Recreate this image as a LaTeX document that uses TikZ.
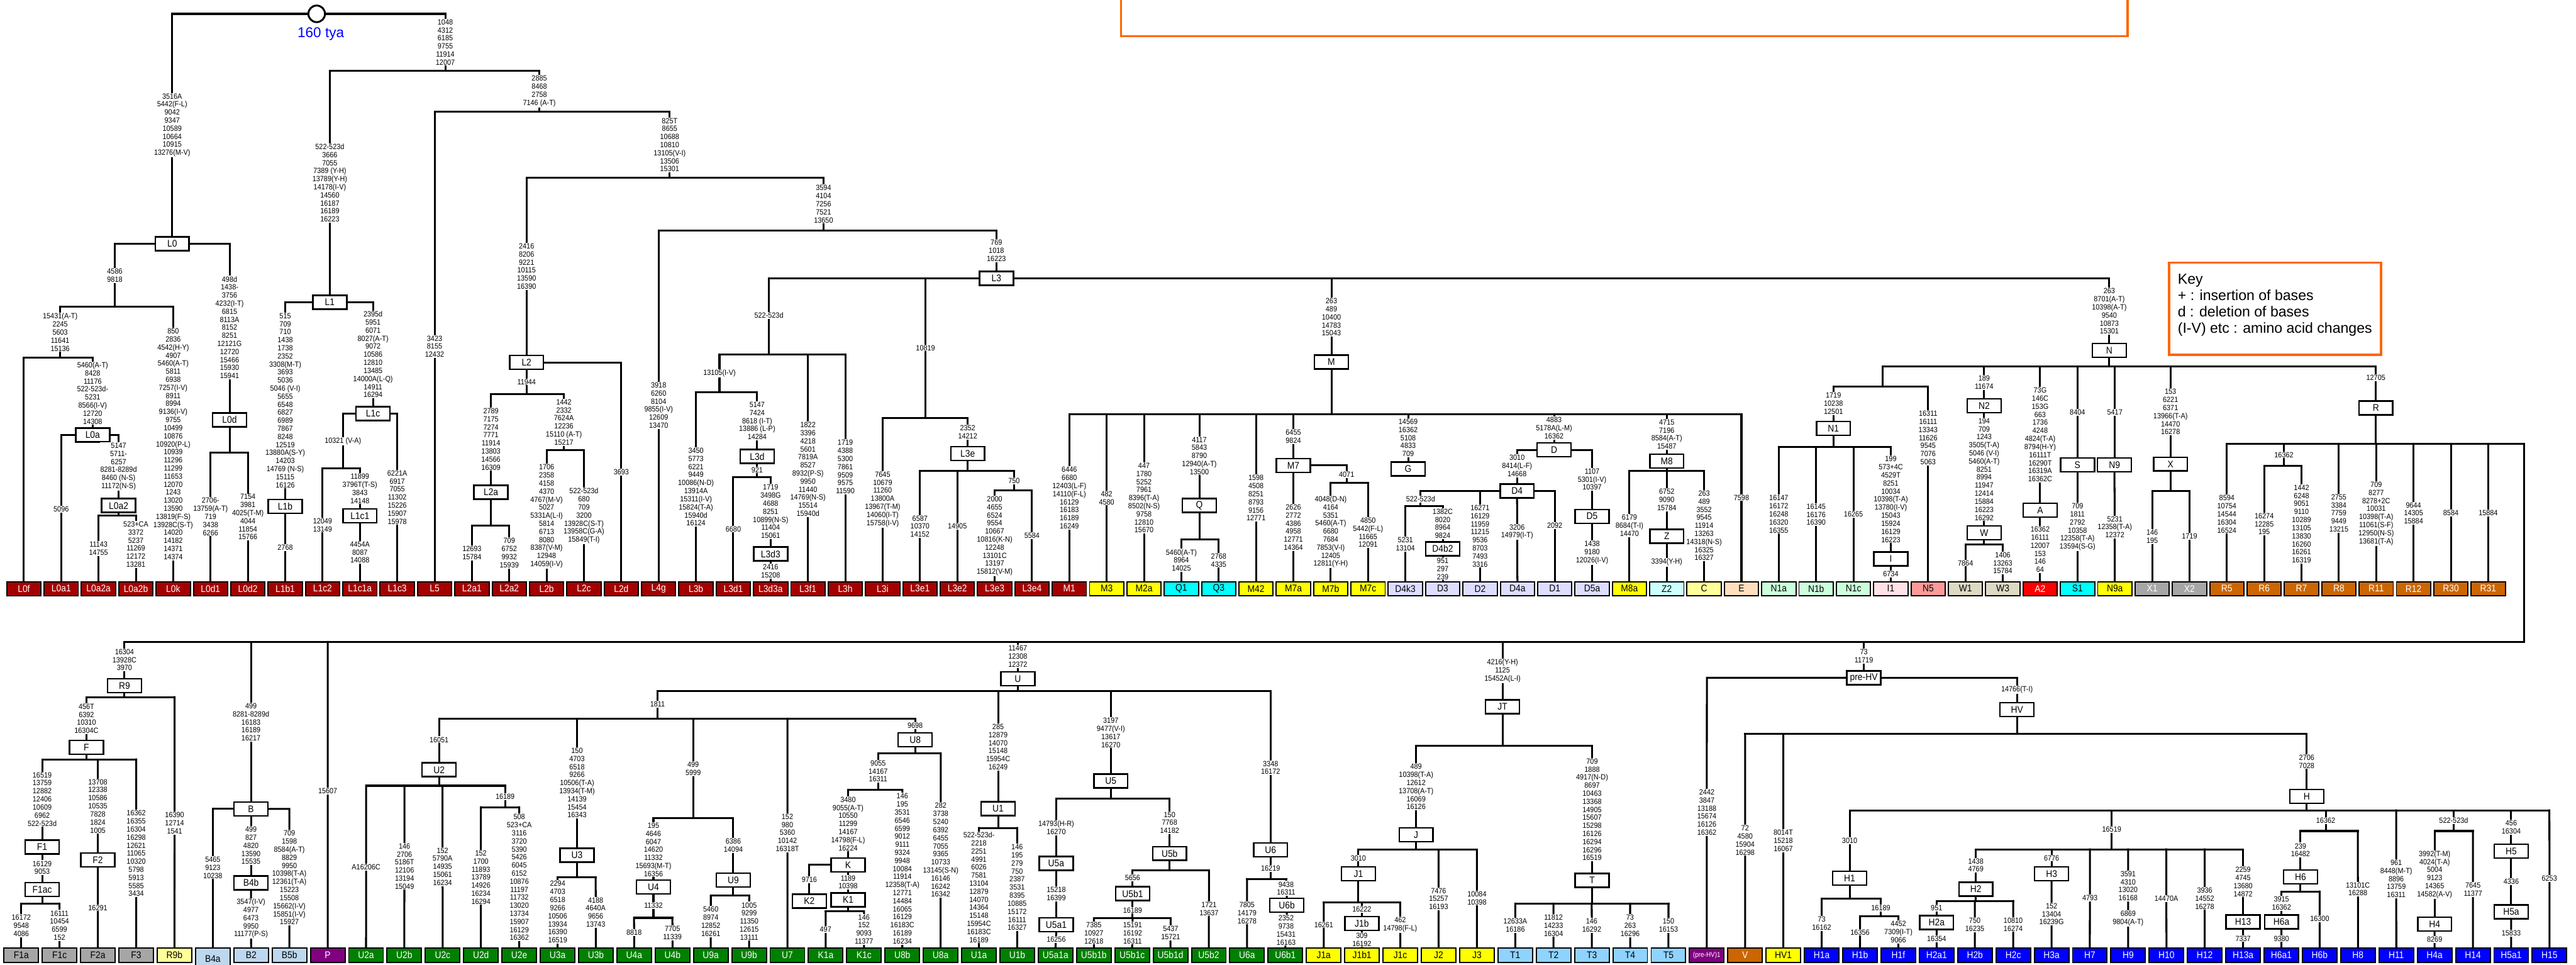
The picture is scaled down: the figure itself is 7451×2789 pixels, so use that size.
\documentclass[tikz,border=0pt]{standalone}
\usepackage{fontspec}
\setmainfont{Liberation Sans}
\newfontfamily\nrw{Liberation Sans}[FakeStretch=0.9]
\newcommand\labf{\nrw\fontsize{22}{23.3}\selectfont}
\newcommand\leaff{\nrw\fontsize{28}{30}\selectfont}
\newcommand\smleaff{\nrw\fontsize{20}{22}\selectfont}
\newcommand\boxf{\nrw\fontsize{28}{30}\selectfont}
\newcommand\keyf{\fontsize{42}{47}\selectfont}
\newcommand\tyaf{\fontsize{41}{45}\selectfont}
\pgfdeclarelayer{bg}\pgfdeclarelayer{edges}
\pgfsetlayers{bg,edges,main}
\definecolor{cDR}{RGB}{165,0,0}
\definecolor{cYel}{RGB}{255,255,0}
\definecolor{cCy}{RGB}{0,255,255}
\definecolor{cLav}{RGB}{221,221,255}
\definecolor{cLCy}{RGB}{204,255,255}
\definecolor{cLYel}{RGB}{255,255,153}
\definecolor{cPeach}{RGB}{255,222,190}
\definecolor{cLGr}{RGB}{204,255,220}
\definecolor{cPink}{RGB}{255,225,230}
\definecolor{cSal}{RGB}{255,153,153}
\definecolor{cBeige}{RGB}{221,217,195}
\definecolor{cRed}{RGB}{255,0,0}
\definecolor{cGray}{RGB}{166,166,166}
\definecolor{cBrn}{RGB}{204,102,0}
\definecolor{cLBlue}{RGB}{189,215,238}
\definecolor{cPurp}{RGB}{128,0,128}
\definecolor{cGrn}{RGB}{0,128,0}
\definecolor{cSky}{RGB}{143,211,254}
\definecolor{cBlue}{RGB}{0,0,255}
\definecolor{cOr}{RGB}{255,102,0}
\tikzset{
  ln/.style={line width=5.5pt,line cap=rect},
  box/.style={draw,line width=4.5pt,fill=white,minimum width=98pt,minimum height=40pt,inner sep=0pt,font=\boxf},
  leafT/.style={draw,line width=3.5pt,minimum width=99pt,minimum height=40pt,inner sep=0pt,font=\leaff},
  lab/.style={fill=white,inner xsep=1pt,inner ysep=2pt,align=center,font=\labf},
  keyt/.style={anchor=base west,inner sep=0pt,font=\keyf}
}
\newcounter{lbc}
\newcommand\Lb[3]{\stepcounter{lbc}\node[lab] (lb\the\value{lbc}) at (#1,#2) {#3};}
\newcommand\bx[4]{\node[box] (#1) at (#2,#3) {#4};}
\newcommand\tlf[5]{\node[leafT,fill=#3,text=#4] (#1) at ({69+108*#2},1702) {#5};}
\newcommand\blf[5]{\node[leafT,minimum width=100pt,minimum height=41pt,fill=#3,text=#4] (#1) at ({61.5+110.8*#2},2762) {#5};}
\newcommand\vn[3]{\draw[ln] (#1,#2) -- (#3.north);}
\newcommand\hb[3]{\draw[ln] (#1,#3) -- (#2,#3);}
\newcommand\vv[3]{\draw[ln] (#1,#2) -- (#1,#3);}
\newcommand\sn[2]{\draw[ln] (#1.south) -- (#2.north);}
\begin{document}
\begin{tikzpicture}[x=1pt,y=-1pt]
\useasboundingbox (0,0) rectangle (7451,2789);
\begin{pgfonlayer}{bg}
\fill[white] (0,0) rectangle (7451,2789);
\end{pgfonlayer}
% ---------- title and key ----------
\draw[cOr,line width=6pt] (3243,-30) rectangle (6154,105);
\draw[cOr,line width=6pt] (6274,759) rectangle (6887,1026);
\node[keyt] (k1) at (6299,822) {Key};
\node[keyt] (k2) at (6299,869) {+ : insertion of bases};
\node[keyt] (k3) at (6299,916) {d : deletion of bases};
\node[keyt] (k4) at (6299,963) {(I-V) etc : amino acid changes};
% ---------- root ----------
\node[circle,draw,line width=5.5pt,minimum size=48pt,fill=white,inner sep=0pt] (root) at (916,40) {};
\node[text=cBlue,font=\tyaf,inner sep=0pt] (tya) at (928,99) {160 tya};
% ---------- top boxes ----------
\bx{L0}{498}{705}{L0}
\bx{L0a}{268}{1258}{L0a}
\bx{L0a2}{343}{1462}{L0a2}
\bx{L0d}{664}{1214}{L0d}
\bx{L1}{954}{874}{L1}
\bx{L1b}{825}{1464}{L1b}
\bx{L1c}{1079}{1196}{L1c}
\bx{L1c1}{1041}{1492}{L1c1}
\bx{L2}{1523}{1048}{L2}
\bx{L2a}{1420}{1423}{L2a}
\bx{L3}{2882}{805}{L3}
\bx{L3d}{2190}{1320}{L3d}
\bx{L3d3}{2229}{1602}{L3d3}
\bx{L3e}{2799}{1312}{L3e}
\bx{Q}{3469}{1462}{Q}
\bx{M}{3851}{1047}{M}
\bx{M7}{3741}{1346}{M7}
\bx{G}{4073}{1356}{G}
\bx{D}{4495}{1301}{D}
\bx{D4}{4388}{1420}{D4}
\bx{D4b2}{4173}{1587}{D4b2}
\bx{D5}{4605}{1493}{D5}
\bx{M8}{4821}{1333}{M8}
\bx{Z}{4821}{1551}{Z}
\bx{N1}{5303}{1239}{N1}
\bx{I}{5469}{1616}{I}
\bx{N}{6101}{1013}{N}
\bx{N2}{5739}{1173}{N2}
\bx{W}{5739}{1541}{W}
\bx{A}{5901}{1475}{A}
\bx{S}{6009}{1344}{S}
\bx{N9}{6116}{1344}{N9}
\bx{X}{6278}{1342}{X}
\bx{R}{6872}{1180}{R}
% ---------- top leaves ----------
\tlf{L0f}{0}{cDR}{white}{L0f}
\tlf{L0a1}{1}{cDR}{white}{L0a1}
\tlf{L0a2a}{2}{cDR}{white}{L0a2a}
\tlf{L0a2b}{3}{cDR}{white}{L0a2b}
\tlf{L0k}{4}{cDR}{white}{L0k}
\tlf{L0d1}{5}{cDR}{white}{L0d1}
\tlf{L0d2}{6}{cDR}{white}{L0d2}
\tlf{L1b1}{7}{cDR}{white}{L1b1}
\tlf{L1c2}{8}{cDR}{white}{L1c2}
\tlf{L1c1a}{9}{cDR}{white}{L1c1a}
\tlf{L1c3}{10}{cDR}{white}{L1c3}
\tlf{L5}{11}{cDR}{white}{L5}
\tlf{L2a1}{12}{cDR}{white}{L2a1}
\tlf{L2a2}{13}{cDR}{white}{L2a2}
\tlf{L2b}{14}{cDR}{white}{L2b}
\tlf{L2c}{15}{cDR}{white}{L2c}
\tlf{L2d}{16}{cDR}{white}{L2d}
\tlf{L4g}{17}{cDR}{white}{L4g}
\tlf{L3b}{18}{cDR}{white}{L3b}
\tlf{L3d1}{19}{cDR}{white}{L3d1}
\tlf{L3d3a}{20}{cDR}{white}{L3d3a}
\tlf{L3f1}{21}{cDR}{white}{L3f1}
\tlf{L3h}{22}{cDR}{white}{L3h}
\tlf{L3i}{23}{cDR}{white}{L3i}
\tlf{L3e1}{24}{cDR}{white}{L3e1}
\tlf{L3e2}{25}{cDR}{white}{L3e2}
\tlf{L3e3}{26}{cDR}{white}{L3e3}
\tlf{L3e4}{27}{cDR}{white}{L3e4}
\tlf{M1}{28}{cDR}{white}{M1}
\tlf{M3}{29}{cYel}{black}{M3}
\tlf{M2a}{30}{cYel}{black}{M2a}
\tlf{Q1}{31}{cCy}{black}{Q1}
\tlf{Q3}{32}{cCy}{black}{Q3}
\tlf{M42}{33}{cYel}{black}{M42}
\tlf{M7a}{34}{cYel}{black}{M7a}
\tlf{M7b}{35}{cYel}{black}{M7b}
\tlf{M7c}{36}{cYel}{black}{M7c}
\tlf{D4k3}{37}{cLav}{black}{D4k3}
\tlf{D3}{38}{cLav}{black}{D3}
\tlf{D2}{39}{cLav}{black}{D2}
\tlf{D4a}{40}{cLav}{black}{D4a}
\tlf{D1}{41}{cLav}{black}{D1}
\tlf{D5a}{42}{cLav}{black}{D5a}
\tlf{M8a}{43}{cYel}{black}{M8a}
\tlf{Z2}{44}{cLCy}{black}{Z2}
\tlf{C}{45}{cLYel}{black}{C}
\tlf{E}{46}{cPeach}{black}{E}
\tlf{N1a}{47}{cLGr}{black}{N1a}
\tlf{N1b}{48}{cLGr}{black}{N1b}
\tlf{N1c}{49}{cLGr}{black}{N1c}
\tlf{I1}{50}{cPink}{black}{I1}
\tlf{N5}{51}{cSal}{black}{N5}
\tlf{W1}{52}{cBeige}{black}{W1}
\tlf{W3}{53}{cBeige}{black}{W3}
\tlf{A2}{54}{cRed}{white}{A2}
\tlf{S1}{55}{cCy}{black}{S1}
\tlf{N9a}{56}{cYel}{black}{N9a}
\tlf{X1}{57}{cGray}{white}{X1}
\tlf{X2}{58}{cGray}{white}{X2}
\tlf{R5}{59}{cBrn}{white}{R5}
\tlf{R6}{60}{cBrn}{white}{R6}
\tlf{R7}{61}{cBrn}{white}{R7}
\tlf{R8}{62}{cBrn}{white}{R8}
\tlf{R11}{63}{cBrn}{white}{R11}
\tlf{R12}{64}{cBrn}{white}{R12}
\tlf{R30}{65}{cBrn}{white}{R30}
\tlf{R31}{66}{cBrn}{white}{R31}
% ---------- bottom boxes ----------
\bx{R9}{360}{1983}{R9}
\bx{F}{250}{2161}{F}
\bx{F1}{122}{2449}{F1}
\bx{F1ac}{122}{2572}{F1ac}
\bx{F2}{283}{2487}{F2}
\bx{B}{726}{2339}{B}
\bx{B4b}{726}{2553}{B4b}
\bx{U2}{1270}{2226}{U2}
\bx{U3}{1669}{2473}{U3}
\bx{U4}{1890}{2565}{U4}
\bx{U9}{2121}{2545}{U9}
\bx{U8}{2647}{2139}{U8}
\bx{K}{2453}{2501}{K}
\bx{K2}{2341}{2606}{K2}
\bx{K1}{2453}{2602}{K1}
\bx{U}{2944}{1963}{U}
\bx{U1}{2887}{2338}{U1}
\bx{U5}{3213}{2258}{U5}
\bx{U5a}{3055}{2497}{U5a}
\bx{U5a1}{3055}{2674}{U5a1}
\bx{U5b}{3383}{2468}{U5b}
\bx{U5b1}{3276}{2584}{U5b1}
\bx{U6}{3675}{2458}{U6}
\bx{U6b}{3722}{2618}{U6b}
\bx{JT}{4346}{2044}{JT}
\bx{J}{4096}{2414}{J}
\bx{J1}{3929}{2527}{J1}
\bx{J1b}{3939}{2670}{J1b}
\bx{T}{4605}{2546}{T}
\bx{preHV}{5391}{1960}{pre-HV}
\bx{HV}{5834}{2052}{HV}
\bx{H}{6672}{2303}{H}
\bx{H1}{5350}{2539}{H1}
\bx{H2}{5715}{2571}{H2}
\bx{H2a}{5601.5}{2668}{H2a}
\bx{H3}{5934}{2527}{H3}
\bx{H13}{6488}{2666}{H13}
\bx{H6}{6654}{2536}{H6}
\bx{H6a}{6599}{2666}{H6a}
\bx{H4}{7042}{2672}{H4}
\bx{H5}{7263.5}{2461}{H5}
\bx{H5a}{7263.5}{2637}{H5a}
% ---------- bottom leaves ----------
\blf{F1a}{0}{cGray}{black}{F1a}
\blf{F1c}{1}{cGray}{black}{F1c}
\blf{F2a}{2}{cGray}{black}{F2a}
\blf{F3}{3}{cGray}{black}{F3}
\blf{R9b}{4}{cLYel}{black}{R9b}
\node[leafT,minimum width=100pt,minimum height=62pt,fill=cLBlue] (B4a) at (615.5,2772) {B4a};
\blf{B2}{6}{cLBlue}{black}{B2}
\blf{B5b}{7}{cLBlue}{black}{B5b}
\blf{P}{8}{cPurp}{white}{P}
\blf{U2a}{9}{cGrn}{white}{U2a}
\blf{U2b}{10}{cGrn}{white}{U2b}
\blf{U2c}{11}{cGrn}{white}{U2c}
\blf{U2d}{12}{cGrn}{white}{U2d}
\blf{U2e}{13}{cGrn}{white}{U2e}
\blf{U3a}{14}{cGrn}{white}{U3a}
\blf{U3b}{15}{cGrn}{white}{U3b}
\blf{U4a}{16}{cGrn}{white}{U4a}
\blf{U4b}{17}{cGrn}{white}{U4b}
\blf{U9a}{18}{cGrn}{white}{U9a}
\blf{U9b}{19}{cGrn}{white}{U9b}
\blf{U7}{20}{cGrn}{white}{U7}
\blf{K1a}{21}{cGrn}{white}{K1a}
\blf{K1c}{22}{cGrn}{white}{K1c}
\blf{U8b}{23}{cGrn}{white}{U8b}
\blf{U8a}{24}{cGrn}{white}{U8a}
\blf{U1a}{25}{cGrn}{white}{U1a}
\blf{U1b}{26}{cGrn}{white}{U1b}
\blf{U5a1a}{27}{cGrn}{white}{U5a1a}
\blf{U5b1b}{28}{cGrn}{white}{U5b1b}
\blf{U5b1c}{29}{cGrn}{white}{U5b1c}
\blf{U5b1d}{30}{cGrn}{white}{U5b1d}
\blf{U5b2}{31}{cGrn}{white}{U5b2}
\blf{U6a}{32}{cGrn}{white}{U6a}
\blf{U6b1}{33}{cGrn}{white}{U6b1}
\blf{J1a}{34}{cYel}{black}{J1a}
\blf{J1b1}{35}{cYel}{black}{J1b1}
\blf{J1c}{36}{cYel}{black}{J1c}
\blf{J2}{37}{cYel}{black}{J2}
\blf{J3}{38}{cYel}{black}{J3}
\blf{T1}{39}{cSky}{black}{T1}
\blf{T2}{40}{cSky}{black}{T2}
\blf{T3}{41}{cSky}{black}{T3}
\blf{T4}{42}{cSky}{black}{T4}
\blf{T5}{43}{cSky}{black}{T5}
\blf{preHVa}{44}{cPurp}{white}{\smleaff(pre-HV)1}
\blf{V}{45}{cBrn}{white}{V}
\blf{HV1}{46}{cYel}{black}{HV1}
\blf{H1a}{47}{cBlue}{white}{H1a}
\blf{H1b}{48}{cBlue}{white}{H1b}
\blf{H1f}{49}{cBlue}{white}{H1f}
\blf{H2a1}{50}{cBlue}{white}{H2a1}
\blf{H2b}{51}{cBlue}{white}{H2b}
\blf{H2c}{52}{cBlue}{white}{H2c}
\blf{H3a}{53}{cBlue}{white}{H3a}
\blf{H7}{54}{cBlue}{white}{H7}
\blf{H9}{55}{cBlue}{white}{H9}
\blf{H10}{56}{cBlue}{white}{H10}
\blf{H12}{57}{cBlue}{white}{H12}
\blf{H13a}{58}{cBlue}{white}{H13a}
\blf{H6a1}{59}{cBlue}{white}{H6a1}
\blf{H6b}{60}{cBlue}{white}{H6b}
\blf{H8}{61}{cBlue}{white}{H8}
\blf{H11}{62}{cBlue}{white}{H11}
\blf{H4a}{63}{cBlue}{white}{H4a}
\blf{H14}{64}{cBlue}{white}{H14}
\blf{H5a1}{65}{cBlue}{white}{H5a1}
\blf{H15}{66}{cBlue}{white}{H15}
% ---------- top labels ----------
\Lb{1288}{122}{1048\\4312\\6185\\9755\\11914\\12007}
\Lb{498}{362}{3516A\\5442(F-L)\\9042\\9347\\10589\\10664\\10915\\13276(M-V)}
\Lb{954}{529}{522-523d\\3666\\7055\\7389 (Y-H)\\13789(Y-H)\\14178(I-V)\\14560\\16187\\16189\\16223}
\Lb{1560}{264}{2885\\8468\\2758\\7146 (A-T)}
\Lb{1937}{419}{825T\\8655\\10688\\10810\\13105(V-I)\\13506\\15301}
\Lb{1523}{770}{2416\\8206\\9221\\10115\\13590\\16390}
\Lb{2382}{590}{3594\\4104\\7256\\7521\\13650}
\Lb{2882}{725}{769\\1018\\16223}
\Lb{1257}{1002}{3423\\8155\\12432}
\Lb{1905}{1172}{3918\\6260\\8104\\9855(I-V)\\12609\\13470}
\Lb{332}{797}{4586\\9818}
\Lb{664}{947}{498d\\1438-\\3756\\4232(I-T)\\6815\\8113A\\8152\\8251\\12121G\\12720\\15466\\15930\\15941}
\Lb{174}{961}{15431(A-T)\\2245\\5603\\11641\\15136}
\Lb{268}{1137}{5460(A-T)\\8428\\11176\\522-523d-\\5231\\8566(I-V)\\12720\\14308}
\Lb{177}{1472}{5096}
\Lb{343}{1349}{5147\\5711-\\6257\\8281-8289d\\8460 (N-S)\\11172(N-S)}
\Lb{285}{1586}{11143\\14755}
\Lb{393}{1574}{523+CA\\3372\\5237\\11269\\12172\\13281}
\Lb{501}{1284}{850\\2836\\4542(H-Y)\\4907\\5460(A-T)\\5811\\6938\\7257(I-V)\\8911\\8994\\9136(I-V)\\9755\\10499\\10876\\10920(P-L)\\10939\\11296\\11299\\11653\\12070\\1243\\13020\\13590\\13819(F-S)\\13928C(S-T)\\14020\\14182\\14371\\14374}
\Lb{609}{1494}{2706-\\13759(A-T)\\719\\3438\\6266}
\Lb{717}{1495}{7154\\3981\\4025(T-M)\\4044\\11854\\15766}
\Lb{825}{1158}{515\\709\\710\\1438\\1738\\2352\\3308(M-T)\\3693\\5036\\5046 (V-I)\\5655\\6548\\6827\\6989\\7867\\8248\\12519\\13880A(S-Y)\\14203\\14769 (N-S)\\15115\\16126}
\Lb{825}{1583}{2768}
\Lb{1079}{1025}{2395d\\5951\\6071\\8027(A-T)\\9072\\10586\\12810\\13485\\14000A(L-Q)\\14911\\16294}
\Lb{992}{1276}{10321 (V-A)}
\Lb{933}{1518}{12049\\13149}
\Lb{1041}{1413}{11899\\3796T(T-S)\\3843\\14148}
\Lb{1041}{1597}{4454A\\8087\\14088}
\Lb{1149}{1438}{6221A\\6917\\7055\\11302\\15226\\15907\\15978}
\Lb{1797}{1365}{3693}
\Lb{1523}{1104}{11944}
\Lb{1420}{1270}{2789\\7175\\7274\\7771\\11914\\13803\\14566\\16309}
\Lb{1365}{1599}{12693\\15784}
\Lb{1473}{1599}{709\\6752\\9932\\15939}
\Lb{1631}{1221}{1442\\2332\\7624A\\12236\\15110 (A-T)\\15217}
\Lb{1581}{1493}{1706\\2358\\4158\\4370\\4767(M-V)\\5027\\5331A(L-I)\\5814\\6713\\8080\\8387(V-M)\\12948\\14059(I-V)}
\Lb{1689}{1492}{522-523d\\680\\709\\3200\\13928C(S-T)\\13958C(G-A)\\15849(T-I)}
\Lb{2224}{912}{522-523d}
\Lb{2081}{1080}{13105(I-V)}
\Lb{2013}{1408}{3450\\5773\\6221\\9449\\10086(N-D)\\13914A\\15311(I-V)\\15824(T-A)\\15940d\\16124}
\Lb{2190}{1217}{5147\\7424\\8618 (I-T)\\13886 (L-P)\\14284}
\Lb{2190}{1359}{921}
\Lb{2121}{1530}{6680}
\Lb{2229}{1479}{1719\\3498G\\4688\\8251\\10899(N-S)\\11404\\15061}
\Lb{2229}{1652}{2416\\15208}
\Lb{2337}{1357}{1822\\3396\\4218\\5601\\7819A\\8527\\8932(P-S)\\9950\\11440\\14769(N-S)\\15514\\15940d}
\Lb{2445}{1350}{1719\\4388\\5300\\7861\\9509\\9575\\11590}
\Lb{2677}{1006}{10819}
\Lb{2553}{1444}{7645\\10679\\11260\\13800A\\13967(T-M)\\14060(I-T)\\15758(I-V)}
\Lb{2799}{1250}{2352\\14212}
\Lb{2661}{1522}{6587\\10370\\14152}
\Lb{2769}{1522}{14905}
\Lb{2933}{1391}{750}
\Lb{2877}{1550}{2000\\4655\\6524\\9554\\10667\\10816(K-N)\\12248\\13101C\\13197\\15812(V-M)}
\Lb{2985}{1549}{5584}
\Lb{3093}{1440}{6446\\6680\\12403(L-F)\\14110(F-L)\\16129\\16183\\16189\\16249}
\Lb{3201}{1440}{482\\4580}
\Lb{3309}{1440}{447\\1780\\5252\\7961\\8396(T-A)\\8502(N-S)\\9758\\12810\\15670}
\Lb{3469}{1318}{4117\\5843\\8790\\12940(A-T)\\13500}
\Lb{3417}{1620}{5460(A-T)\\8964\\14025}
\Lb{3525}{1620}{2768\\4335}
\Lb{3633}{1440}{1598\\4508\\8251\\8793\\9156\\12771}
\Lb{3851}{917}{263\\489\\10400\\14783\\15043}
\Lb{3741}{1262}{6455\\9824}
\Lb{3741}{1525}{2626\\2772\\4386\\4958\\12771\\14364}
\Lb{3895}{1372}{4071}
\Lb{3849}{1538}{4048(D-N)\\4164\\5351\\5460(A-T)\\6680\\7684\\7853(V-I)\\12405\\12811(Y-H)}
\Lb{3957}{1540}{4850\\5442(F-L)\\11665\\12091}
\Lb{4073}{1266}{14569\\16362\\5108\\4833\\709}
\Lb{4495}{1238}{4883\\5178A(L-M)\\16362}
\Lb{4388}{1347}{3010\\8414(L-F)\\14668}
\Lb{4605}{1386}{1107\\5301(I-V)\\10397}
\Lb{4605}{1598}{1438\\9180\\12026(I-V)}
\Lb{4109}{1443}{522-523d}
\Lb{4065}{1573}{5231\\13104}
\Lb{4173}{1514}{1382C\\8020\\8964\\9824}
\Lb{4173}{1645}{951\\297\\239}
\Lb{4281}{1550}{16271\\16129\\11959\\11215\\9536\\8703\\7493\\3316}
\Lb{4388}{1538}{3206\\14979(I-T)}
\Lb{4497}{1520}{2092}
\Lb{4821}{1256}{4715\\7196\\8584(A-T)\\15487}
\Lb{4713}{1520}{6179\\8684(T-I)\\14470}
\Lb{4821}{1445}{6752\\9090\\15784}
\Lb{4821}{1626}{3394(Y-H)}
\Lb{4929}{1520}{263\\489\\3552\\9545\\11914\\13263\\14318(N-S)\\16325\\16327}
\Lb{5037}{1439}{7598}
\Lb{5303}{1167}{1719\\10238\\12501}
\Lb{5145}{1487}{16147\\16172\\16248\\16320\\16355}
\Lb{5253}{1488}{16145\\16176\\16390}
\Lb{5361}{1487}{16265}
\Lb{5469}{1444}{199\\573+4C\\4529T\\8251\\10034\\10398(T-A)\\13780(I-V)\\15043\\15924\\16129\\16223}
\Lb{5469}{1660}{6734}
\Lb{5577}{1266}{16311\\16111\\13343\\11626\\9545\\7076\\5063}
\Lb{6101}{900}{263\\8701(A-T)\\10398(A-T)\\9540\\10873\\15301}
\Lb{5739}{1106}{189\\11674}
\Lb{5739}{1357}{194\\709\\1243\\3505(T-A)\\5046 (V-I)\\5460(A-T)\\8251\\8994\\11947\\12414\\15884\\16223\\16292}
\Lb{5685}{1628}{7864}
\Lb{5793}{1628}{1406\\13263\\15784}
\Lb{5901}{1257}{73G\\146C\\153G\\663\\1736\\4248\\4824(T-A)\\8794(H-Y)\\16111T\\16290T\\16319A\\16362C}
\Lb{5901}{1589}{16362\\16111\\12007\\153\\146\\64}
\Lb{6009}{1192}{8404}
\Lb{6009}{1524}{709\\1811\\2792\\10358\\12358(T-A)\\13594(S-G)}
\Lb{6117}{1192}{5417}
\Lb{6117}{1524}{5231\\12358(T-A)\\12372}
\Lb{6278}{1191}{153\\6221\\6371\\13966(T-A)\\14470\\16278}
\Lb{6225}{1552}{146\\195}
\Lb{6333}{1551}{1719}
\Lb{6872}{1092}{12705}
\Lb{6441}{1487}{8594\\10754\\14544\\16304\\16524}
\Lb{6606}{1315}{16362}
\Lb{6549}{1515}{16274\\12285\\195}
\Lb{6657}{1515}{1442\\6248\\9051\\9110\\10289\\13105\\13830\\16260\\16261\\16319}
\Lb{6765}{1484}{2755\\3384\\7759\\9449\\13215}
\Lb{6873}{1485}{709\\8277\\8278+2C\\10031\\10398(T-A)\\11061(S-F)\\12950(N-S)\\13681(T-A)}
\Lb{6981}{1484}{9644\\14305\\15884}
\Lb{7089}{1484}{8584}
\Lb{7197}{1484}{15884}
% ---------- bottom labels ----------
\Lb{360}{1908}{16304\\13928C\\3970}
\Lb{250}{2078}{456T\\6392\\10310\\16304C}
\Lb{122}{2311}{16519\\13759\\12882\\12406\\10609\\6962\\522-523d}
\Lb{122}{2509}{16129\\9053}
\Lb{61.5}{2677}{16172\\9548\\4086}
\Lb{172}{2676}{16111\\10454\\6599\\152}
\Lb{283}{2331}{13708\\12338\\10586\\10535\\7828\\1824\\1005}
\Lb{283}{2625}{16291}
\Lb{394}{2468}{16362\\16355\\16304\\16298\\12621\\11065\\10320\\5798\\5913\\5585\\3434}
\Lb{505}{2380}{16390\\12714\\1541}
\Lb{726}{2088}{499\\8281-8289d\\16183\\16189\\16217}
\Lb{615.5}{2509}{5465\\9123\\10238}
\Lb{837}{2538}{709\\1598\\8584(A-T)\\8829\\9950\\10398(T-A)\\12361(T-A)\\15223\\15508\\15662(I-V)\\15851(I-V)\\15927}
\Lb{726}{2445}{499\\827\\4820\\13590\\15535}
\Lb{726}{2656}{3547(I-V)\\4977\\6473\\9950\\11177(P-S)}
\Lb{948}{2287}{15607}
\Lb{2944}{1898}{11467\\12308\\12372}
\Lb{1902}{2037}{1811}
\Lb{1270}{2139}{16051}
\Lb{1059}{2507}{A16206C}
\Lb{1170}{2505}{146\\2706\\5186T\\12106\\13194\\15049}
\Lb{1280}{2506}{152\\5790A\\14935\\15061\\16234}
\Lb{1461}{2304}{16189}
\Lb{1391}{2537}{152\\1700\\11893\\13789\\14926\\16234\\16294}
\Lb{1502}{2537}{508\\523+CA\\3116\\3720\\5390\\5426\\6045\\6152\\10876\\11197\\11732\\13020\\13734\\15907\\16129\\16362}
\Lb{1669}{2264}{150\\4703\\6518\\9266\\10506(T-A)\\13934(T-M)\\14139\\15454\\16343}
\Lb{1613}{2637}{2294\\4703\\6518\\9266\\10506\\13934\\16390\\16519}
\Lb{1723}{2638}{4188\\4640A\\9656\\13743}
\Lb{2005}{2223}{499\\5999}
\Lb{1890}{2457}{195\\4646\\6047\\14620\\11332\\15693(M-T)\\16356}
\Lb{1890}{2619}{11332}
\Lb{1834}{2697}{8818}
\Lb{1945}{2698}{7705\\11339}
\Lb{2121}{2445}{6386\\14094}
\Lb{2056}{2665}{5460\\8974\\12852\\16261}
\Lb{2167}{2664}{1005\\9299\\11350\\12615\\13111}
\Lb{2277.5}{2408}{152\\980\\5360\\10142\\16318T}
\Lb{2647}{2098}{9698}
\Lb{2540}{2230}{9055\\14167\\16311}
\Lb{2453}{2382}{3480\\9055(A-T)\\10550\\11299\\14167\\14798(F-L)\\16224}
\Lb{2341}{2544}{9716}
\Lb{2453}{2551}{1189\\10398}
\Lb{2388}{2688}{497}
\Lb{2499}{2687}{146\\152\\9093\\11377}
\Lb{2610}{2512}{146\\195\\3531\\6546\\6599\\9012\\9111\\9324\\9948\\10084\\11914\\12358(T-A)\\12771\\14484\\16065\\16129\\16183C\\16189\\16234}
\Lb{2721}{2458}{282\\3738\\5240\\6392\\6455\\7055\\9365\\10733\\13145(S-N)\\16146\\16242\\16342}
\Lb{2887}{2160}{285\\12879\\14070\\15148\\15954C\\16249}
\Lb{2831.5}{2566}{522-523d-\\2218\\2251\\4991\\6026\\7581\\13104\\12879\\14070\\14364\\15148\\15954C\\16183C\\16189}
\Lb{2942}{2566}{146\\195\\279\\750\\2387\\3531\\8395\\10885\\15172\\16111\\16327}
\Lb{3213}{2119}{3197\\9477(V-I)\\13617\\16270}
\Lb{3055}{2394}{14793(H-R)\\16270}
\Lb{3055}{2585}{15218\\16399}
\Lb{3055}{2717}{16256}
\Lb{3383}{2379}{150\\7768\\14182}
\Lb{3276}{2539}{5656}
\Lb{3276}{2632}{16189}
\Lb{3164}{2698}{7385\\10927\\12618}
\Lb{3276}{2698}{15191\\16192\\16311}
\Lb{3386}{2698}{5437\\15721}
\Lb{3497}{2628}{1721\\13637}
\Lb{3675}{2220}{3348\\16172}
\Lb{3675}{2511}{16219}
\Lb{3607}{2640}{7805\\14179\\16278}
\Lb{3720}{2569}{9438\\16311}
\Lb{3720}{2690}{2352\\9738\\15431\\16163}
\Lb{4346}{1940}{4216(Y-H)\\1125\\15452A(L-I)}
\Lb{4096}{2275}{489\\10398(T-A)\\12612\\13708(A-T)\\16069\\16126}
\Lb{3929}{2481}{3010}
\Lb{3829}{2674}{16261}
\Lb{3939}{2630}{16222}
\Lb{3939}{2717}{309\\16192}
\Lb{4050}{2674}{462\\14798(F-L)}
\Lb{4161}{2599}{7476\\15257\\16193}
\Lb{4272}{2597}{10084\\10398}
\Lb{4605}{2341}{709\\1888\\4917(N-D)\\8697\\10463\\13368\\14905\\15607\\15298\\16126\\16294\\16296\\16519}
\Lb{4383}{2676}{12633A\\16186}
\Lb{4493.5}{2676}{11812\\14233\\16304}
\Lb{4604}{2676}{146\\16292}
\Lb{4715}{2677}{73\\263\\16296}
\Lb{4826}{2676}{150\\16153}
\Lb{5391}{1897}{73\\11719}
\Lb{4937}{2349}{2442\\3847\\13188\\15674\\16126\\16362}
\Lb{5834}{1995}{14766(T-I)}
\Lb{5047.5}{2430}{72\\4580\\15904\\16298}
\Lb{5158}{2431}{8014T\\15218\\16067}
\Lb{6672}{2202}{2706\\7028}
\Lb{5350}{2431}{3010}
\Lb{5269}{2670}{73\\16162}
\Lb{5440}{2626}{16189}
\Lb{5380}{2696}{16356}
\Lb{5491}{2695}{4452\\7309(I-T)\\9066}
\Lb{6108}{2399}{16519}
\Lb{5715}{2502}{1438\\4769}
\Lb{5601.5}{2626}{951}
\Lb{5601.5}{2715}{16354}
\Lb{5712}{2674}{750\\16235}
\Lb{5823}{2673}{10810\\16274}
\Lb{5934}{2481}{6776}
\Lb{5934}{2643}{152\\13404\\16239G}
\Lb{6045}{2597}{4793}
\Lb{6155.5}{2562}{3591\\4310\\13020\\16168}
\Lb{6155.5}{2656}{6869\\9804(A-T)}
\Lb{6266}{2599}{14470A}
\Lb{6377}{2598}{3936\\14552\\16278}
\Lb{6488}{2550}{2259\\4745\\13680\\14872}
\Lb{6488}{2714}{7337}
\Lb{6727}{2373}{16362}
\Lb{6654}{2458}{239\\16482}
\Lb{6599}{2612}{3915\\16362}
\Lb{6599}{2714}{9380}
\Lb{6709.5}{2657}{16300}
\Lb{6820}{2571}{13101C\\16288}
\Lb{6931}{2541}{961\\8448(M-T)\\8896\\13759\\16311}
\Lb{7097}{2373}{522-523d}
\Lb{7042}{2529}{3992(T-M)\\4024(T-A)\\5004\\9123\\14365\\14582(A-V)}
\Lb{7042}{2717}{8269}
\Lb{7153}{2572}{7645\\11377}
\Lb{7263.5}{2392}{456\\16304}
\Lb{7263.5}{2549}{4336}
\Lb{7263.5}{2698}{15833}
\Lb{7374}{2540}{6253}
% ---------- connectors ----------
\begin{pgfonlayer}{edges}
\hb{498}{1288}{40}
\vn{498}{40}{L0}
\vv{1288}{40}{204}
\hb{954}{1560}{204}
\vn{954}{204}{L1}
\vv{1560}{204}{323}
\hb{1257}{1937}{323}
\vn{1257}{323}{L5}
\vv{1937}{323}{514}
\hb{1523}{2382}{514}
\vn{1523}{514}{L2}
\vv{2382}{514}{666}
\hb{1905}{2882}{666}
\vn{1905}{666}{L4g}
\vn{2882}{666}{L3}
\hb{2224}{6101}{805}
\draw[ln] (L0.west) -- (332,705) -- (332,887);
\hb{174}{501}{887}
\vv{174}{887}{1034}
\hb{69}{268}{1034}
\vn{69}{1034}{L0f}
\vn{268}{1034}{L0a}
\draw[ln] (L0a.west) -- (177,1258) -- (L0a1.north);
\draw[ln] (L0a.east) -- (343,1258) -- (L0a2.north);
\draw[ln] (L0a2.south) -- (343,1491);
\hb{285}{393}{1491}
\vn{285}{1491}{L0a2a}
\vn{393}{1491}{L0a2b}
\vn{501}{887}{L0k}
\draw[ln] (L0.east) -- (664,705) -- (L0d.north);
\draw[ln] (L0d.south) -- (664,1309);
\hb{609}{717}{1309}
\vn{609}{1309}{L0d1}
\vn{717}{1309}{L0d2}
\draw[ln] (L1.west) -- (825,874) -- (L1b.north);
\sn{L1b}{L1b1}
\draw[ln] (L1.east) -- (1079,874) -- (L1c.north);
\draw[ln] (L1c.west) -- (992,1196) -- (992,1354);
\hb{933}{1041}{1354}
\vn{933}{1354}{L1c2}
\vn{1041}{1354}{L1c1}
\sn{L1c1}{L1c1a}
\draw[ln] (L1c.east) -- (1149,1196) -- (L1c3.north);
\draw[ln] (L2.east) -- (1797,1048) -- (L2d.north);
\draw[ln] (L2.south) -- (1523,1140);
\hb{1420}{1631}{1140}
\vn{1420}{1140}{L2a}
\draw[ln] (L2a.south) -- (1420,1519);
\hb{1365}{1473}{1519}
\vn{1365}{1519}{L2a1}
\vn{1473}{1519}{L2a2}
\vv{1631}{1140}{1302}
\hb{1581}{1689}{1302}
\vn{1581}{1302}{L2b}
\vn{1689}{1302}{L2c}
\vv{2224}{805}{1025}
\hb{2081}{2445}{1025}
\vv{2081}{1025}{1135}
\hb{2013}{2190}{1135}
\vn{2013}{1135}{L3b}
\vn{2190}{1135}{L3d}
\draw[ln] (L3d.south) -- (2190,1379);
\hb{2121}{2229}{1379}
\vn{2121}{1379}{L3d1}
\vn{2229}{1379}{L3d3}
\sn{L3d3}{L3d3a}
\vn{2337}{1025}{L3f1}
\vn{2445}{1025}{L3h}
\vv{2677}{805}{1208}
\hb{2553}{2799}{1208}
\vn{2553}{1208}{L3i}
\vn{2799}{1208}{L3e}
\draw[ln] (L3e.south) -- (2799,1362);
\hb{2661}{2933}{1362}
\vn{2661}{1362}{L3e1}
\vn{2769}{1362}{L3e2}
\vv{2933}{1362}{1418}
\hb{2877}{2985}{1418}
\vn{2877}{1418}{L3e3}
\vn{2985}{1418}{L3e4}
\vn{3851}{805}{M}
\draw[ln] (M.south) -- (3851,1197);
\hb{3093}{5037}{1197}
\vn{3093}{1197}{M1}
\vn{3201}{1197}{M3}
\vn{3309}{1197}{M2a}
\vn{3469}{1197}{Q}
\draw[ln] (Q.south) -- (3469,1559);
\hb{3417}{3525}{1559}
\vn{3417}{1559}{Q1}
\vn{3525}{1559}{Q3}
\vn{3633}{1197}{M42}
\vn{3741}{1197}{M7}
\sn{M7}{M7a}
\draw[ln] (M7.east) -- (3895,1346) -- (3895,1397);
\hb{3849}{3957}{1397}
\vn{3849}{1397}{M7b}
\vn{3957}{1397}{M7c}
\vn{4073}{1197}{G}
\vn{4495}{1197}{D}
\draw[ln] (D.west) -- (4388,1301) -- (D4.north);
\draw[ln] (D.east) -- (4605,1301) -- (D5.north);
\sn{D5}{D5a}
\hb{4109}{4497}{1420}
\vv{4109}{1420}{1463}
\hb{4065}{4173}{1463}
\vn{4065}{1463}{D4k3}
\vn{4173}{1463}{D4b2}
\sn{D4b2}{D3}
\vn{4281}{1420}{D2}
\sn{D4}{D4a}
\vn{4497}{1420}{D1}
\vn{4821}{1197}{M8}
\draw[ln] (M8.south) -- (4821,1361);
\hb{4713}{4929}{1361}
\vn{4713}{1361}{M8a}
\vn{4821}{1361}{Z}
\sn{Z}{Z2}
\vn{4929}{1361}{C}
\vn{5037}{1197}{E}
\vn{6101}{805}{N}
\draw[ln] (N.south) -- (6101,1060);
\hb{5446}{6872}{1060}
\vv{5446}{1060}{1118}
\hb{5303}{5577}{1118}
\vn{5303}{1118}{N1}
\draw[ln] (N1.south) -- (5303,1293);
\hb{5145}{5469}{1293}
\vn{5145}{1293}{N1a}
\vn{5253}{1293}{N1b}
\vn{5361}{1293}{N1c}
\vn{5469}{1293}{I}
\sn{I}{I1}
\vn{5577}{1118}{N5}
\vn{5739}{1060}{N2}
\sn{N2}{W}
\draw[ln] (W.south) -- (5739,1574);
\hb{5685}{5793}{1574}
\vn{5685}{1574}{W1}
\vn{5793}{1574}{W3}
\vn{5901}{1060}{A}
\sn{A}{A2}
\vn{6009}{1060}{S}
\sn{S}{S1}
\vn{6116}{1060}{N9}
\sn{N9}{N9a}
\vn{6278}{1060}{X}
\draw[ln] (X.south) -- (6278,1420);
\hb{6225}{6333}{1420}
\vn{6225}{1420}{X1}
\vn{6333}{1420}{X2}
\vn{6872}{1060}{R}
\draw[ln] (R.south) -- (6872,1284);
\hb{6441}{7301}{1284}
\vn{6441}{1284}{R5}
\vv{6606}{1284}{1347}
\hb{6549}{6657}{1347}
\vn{6549}{1347}{R6}
\vn{6657}{1347}{R7}
\vn{6765}{1284}{R8}
\vn{6873}{1284}{R11}
\vn{6981}{1284}{R12}
\vn{7089}{1284}{R30}
\vn{7197}{1284}{R31}
\vv{7301}{1284}{1856}
% bottom
\hb{360}{7301}{1856}
\vn{360}{1856}{R9}
\draw[ln] (R9.south) -- (360,2016);
\hb{250}{505}{2016}
\vn{250}{2016}{F}
\draw[ln] (F.south) -- (250,2196);
\hb{122}{394}{2196}
\vn{122}{2196}{F1}
\sn{F1}{F1ac}
\draw[ln] (F1ac.south) -- (122,2613);
\hb{61.5}{172}{2613}
\vn{61.5}{2613}{F1a}
\vn{172}{2613}{F1c}
\vn{283}{2196}{F2}
\sn{F2}{F2a}
\vn{394}{2196}{F3}
\vn{505}{2016}{R9b}
\vn{726}{1856}{B}
\draw[ln] (B.west) -- (615.5,2339) -- (B4a.north);
\draw[ln] (B.east) -- (837,2339) -- (B5b.north);
\sn{B}{B4b}
\sn{B4b}{B2}
\vn{948}{1856}{P}
\vn{2944}{1856}{U}
\draw[ln] (U.south) -- (2944,1999);
\hb{1902}{3675}{1999}
\vv{1902}{1999}{2078}
\hb{1270}{2647}{2078}
\vn{1270}{2078}{U2}
\draw[ln] (U2.south) -- (1270,2272);
\hb{1059}{1461}{2272}
\vn{1059}{2272}{U2a}
\vn{1170}{2272}{U2b}
\vn{1280}{2272}{U2c}
\vv{1461}{2272}{2334}
\hb{1391}{1502}{2334}
\vn{1391}{2334}{U2d}
\vn{1502}{2334}{U2e}
\vn{1669}{2078}{U3}
\draw[ln] (U3.south) -- (1669,2537);
\hb{1613}{1723}{2537}
\vn{1613}{2537}{U3a}
\vn{1723}{2537}{U3b}
\vv{2005}{2078}{2366}
\hb{1890}{2121}{2366}
\vn{1890}{2366}{U4}
\draw[ln] (U4.south) -- (1890,2654);
\hb{1834}{1945}{2654}
\vn{1834}{2654}{U4a}
\vn{1945}{2654}{U4b}
\vn{2121}{2366}{U9}
\draw[ln] (U9.south) -- (2121,2590);
\hb{2056}{2167}{2590}
\vn{2056}{2590}{U9a}
\vn{2167}{2590}{U9b}
\vn{2277.5}{2078}{U7}
\vn{2647}{2078}{U8}
\draw[ln] (U8.south) -- (2647,2178);
\hb{2540}{2721}{2178}
\vv{2540}{2178}{2284}
\hb{2453}{2610}{2284}
\vn{2453}{2284}{K}
\draw[ln] (K.west) -- (2341,2501) -- (K2.north);
\sn{K}{K1}
\draw[ln] (K1.south) -- (2453,2635);
\hb{2388}{2499}{2635}
\vn{2388}{2635}{K1a}
\vn{2499}{2635}{K1c}
\vn{2610}{2284}{U8b}
\vn{2721}{2178}{U8a}
\vn{2887}{1999}{U1}
\draw[ln] (U1.south) -- (2887,2394);
\hb{2831.5}{2942}{2394}
\vn{2831.5}{2394}{U1a}
\vn{2942}{2394}{U1b}
\vn{3213}{1999}{U5}
\draw[ln] (U5.south) -- (3213,2309);
\hb{3055}{3383}{2309}
\vn{3055}{2309}{U5a}
\sn{U5a}{U5a1}
\sn{U5a1}{U5a1a}
\vn{3383}{2309}{U5b}
\draw[ln] (U5b.south) -- (3383,2517);
\hb{3276}{3497}{2517}
\vn{3276}{2517}{U5b1}
\draw[ln] (U5b1.south) -- (3276,2655);
\hb{3164}{3386}{2655}
\vn{3164}{2655}{U5b1b}
\vn{3276}{2655}{U5b1c}
\vn{3386}{2655}{U5b1d}
\vn{3497}{2517}{U5b2}
\vn{3675}{1999}{U6}
\draw[ln] (U6.south) -- (3675,2542);
\hb{3607}{3720}{2542}
\vn{3607}{2542}{U6a}
\vn{3720}{2542}{U6b}
\sn{U6b}{U6b1}
\vn{4346}{1856}{JT}
\draw[ln] (JT.south) -- (4346,2157);
\hb{4096}{4605}{2157}
\vn{4096}{2157}{J}
\draw[ln] (J.south) -- (4096,2457);
\hb{3929}{4272}{2457}
\vn{3929}{2457}{J1}
\draw[ln] (J1.south) -- (3929,2610);
\hb{3829}{4050}{2610}
\vn{3829}{2610}{J1a}
\vn{3939}{2610}{J1b}
\sn{J1b}{J1b1}
\vn{4050}{2610}{J1c}
\vn{4161}{2457}{J2}
\vn{4272}{2457}{J3}
\vn{4605}{2157}{T}
\draw[ln] (T.south) -- (4605,2613);
\hb{4383}{4826}{2613}
\vn{4383}{2613}{T1}
\vn{4493.5}{2613}{T2}
\vn{4604}{2613}{T3}
\vn{4715}{2613}{T4}
\vn{4826}{2613}{T5}
\vn{5391}{1856}{preHV}
\draw[ln] (preHV.west) -- (4937,1960) -- (preHVa.north);
\draw[ln] (preHV.east) -- (5834,1960) -- (HV.north);
\draw[ln] (HV.south) -- (5834,2122);
\hb{5047.5}{6672}{2122}
\vn{5047.5}{2122}{V}
\vn{5158}{2122}{HV1}
\vn{6672}{2122}{H}
\draw[ln] (H.south) -- (6672,2343);
\hb{5350}{7374}{2343}
\vn{5350}{2343}{H1}
\draw[ln] (H1.south) -- (5350,2599);
\hb{5269}{5440}{2599}
\vn{5269}{2599}{H1a}
\vv{5440}{2599}{2650}
\hb{5380}{5491}{2650}
\vn{5380}{2650}{H1b}
\vn{5491}{2650}{H1f}
\vv{6108}{2343}{2456}
\hb{5715}{6488}{2456}
\vn{5715}{2456}{H2}
\draw[ln] (H2.south) -- (5715,2605);
\hb{5601.5}{5823}{2605}
\vn{5601.5}{2605}{H2a}
\sn{H2a}{H2a1}
\vn{5712}{2605}{H2b}
\vn{5823}{2605}{H2c}
\vn{5934}{2456}{H3}
\sn{H3}{H3a}
\vn{6045}{2456}{H7}
\vn{6155.5}{2456}{H9}
\vn{6266}{2456}{H10}
\vn{6377}{2456}{H12}
\vn{6488}{2456}{H13}
\sn{H13}{H13a}
\vv{6727}{2343}{2403}
\hb{6654}{6820}{2403}
\vn{6654}{2403}{H6}
\draw[ln] (H6.south) -- (6654,2578);
\hb{6599}{6709.5}{2578}
\vn{6599}{2578}{H6a}
\sn{H6a}{H6a1}
\vn{6709.5}{2578}{H6b}
\vn{6820}{2403}{H8}
\vn{6931}{2343}{H11}
\vv{7097}{2343}{2403}
\hb{7042}{7153}{2403}
\vn{7042}{2403}{H4}
\sn{H4}{H4a}
\vn{7153}{2403}{H14}
\vn{7263.5}{2343}{H5}
\sn{H5}{H5a}
\sn{H5a}{H5a1}
\vn{7374}{2343}{H15}
\end{pgfonlayer}
\end{tikzpicture}
\end{document}
